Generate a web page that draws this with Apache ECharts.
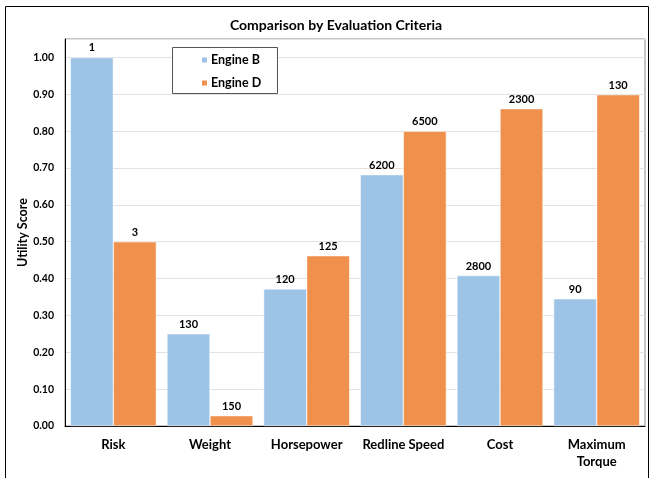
<!DOCTYPE html>
<html>
<head>
<meta charset="utf-8">
<script src="https://cdn.jsdelivr.net/npm/echarts@6/dist/echarts.min.js"></script>
<style>
html,body{margin:0;padding:0;background:#fff;}
#chart{width:654px;height:478px;}
</style>
</head>
<body>
<div id="chart"></div>
<script>
var categories = ['Risk', 'Weight', 'Horsepower', 'Redline Speed', 'Cost', 'Maximum\nTorque'];
var engineB = [1.00, 0.25, 0.372, 0.682, 0.408, 0.345];
var engineD = [0.50, 0.028, 0.462, 0.80, 0.861, 0.899];
var labelsB = ['1', '130', '120', '6200', '2800', '90'];
var labelsD = ['3', '150', '125', '6500', '2300', '130'];
var yTicks = [0, 0.1, 0.2, 0.3, 0.4, 0.5, 0.6, 0.7, 0.8, 0.9, 1.0];

var FONT = 'Lato, "Open Sans", sans-serif';
var chart = echarts.init(document.getElementById('chart'));
chart.setOption({
  animation: false,
  backgroundColor: '#fff',
  title: {
    text: 'Comparison by Evaluation Criteria',
    left: 331, top: 13, textAlign: 'center',
    textStyle: {fontFamily: FONT, fontSize: 14, fontWeight: 'bold', color: '#000'}
  },
  graphic: [
    {type: 'rect', shape: {x: 5.5, y: 6.5, width: 643, height: 520}, style: {fill: null, stroke: '#000', lineWidth: 1}, silent: true, z: 0},
    {type: 'rect', shape: {x: 172.5, y: 47.5, width: 105, height: 46}, style: {fill: '#fff', stroke: '#555', lineWidth: 1}, z: 5}
  ],
  legend: {
    orient: 'vertical', left: 200, top: 53, padding: 0,
    itemWidth: 7, itemHeight: 7, itemGap: 9, z: 10,
    icon: 'rect',
    textStyle: {fontFamily: FONT, fontSize: 12.5, fontWeight: 'bold', color: '#000', lineHeight: 14, padding: [0, 0, 0, -2]},
    data: ['Engine B', 'Engine D']
  },
  grid: {left: 65, right: 9, top: 39, bottom: 52, show: true, borderColor: '#8c8c8c', borderWidth: 1},
  xAxis: {
    type: 'category', data: categories,
    axisLine: {lineStyle: {color: '#000', width: 1}},
    axisTick: {show: false},
    axisLabel: {interval: 0, hideOverlap: false, fontFamily: FONT, fontSize: 13, fontWeight: 'bold', color: '#000', margin: 10, lineHeight: 17}
  },
  yAxis: {
    type: 'value', min: 0, max: 1.05, interval: 0.1,
    name: 'Utility Score', nameLocation: 'middle', nameGap: 36, nameRotate: 90,
    nameMoveOverlap: false,
    nameTextStyle: {fontFamily: FONT, fontSize: 12.5, fontWeight: 'bold', color: '#000'},
    axisLine: {show: true, lineStyle: {color: '#000', width: 1}},
    axisTick: {show: false},
    axisLabel: {
      fontFamily: FONT, fontSize: 10.5, fontWeight: 'bold', color: '#000', margin: 11,
      showMaxLabel: false,
      formatter: function (v) {
        for (var i = 0; i < yTicks.length; i++) { if (Math.abs(yTicks[i] - v) < 1e-6) return yTicks[i].toFixed(2); }
        return '';
      }
    },
    splitLine: {lineStyle: {color: '#e3e3e3', width: 1}}
  },
  series: [
    {
      name: 'Engine B', type: 'bar', data: engineB, barGap: '0%', barCategoryGap: '11%',
      itemStyle: {color: '#9dc3e6', borderColor: '#fff', borderWidth: 0.5},
      label: {show: true, position: 'top', distance: 4, fontFamily: FONT, fontSize: 11, fontWeight: 'bold', color: '#000',
        formatter: function (p) { return labelsB[p.dataIndex]; }}
    },
    {
      name: 'Engine D', type: 'bar', data: engineD, barGap: '0%', barCategoryGap: '11%',
      itemStyle: {color: '#f0904d', borderColor: '#fff', borderWidth: 0.5},
      label: {show: true, position: 'top', distance: 4, fontFamily: FONT, fontSize: 11, fontWeight: 'bold', color: '#000',
        formatter: function (p) { return labelsD[p.dataIndex]; }}
    }
  ]
});
</script>
</body>
</html>
